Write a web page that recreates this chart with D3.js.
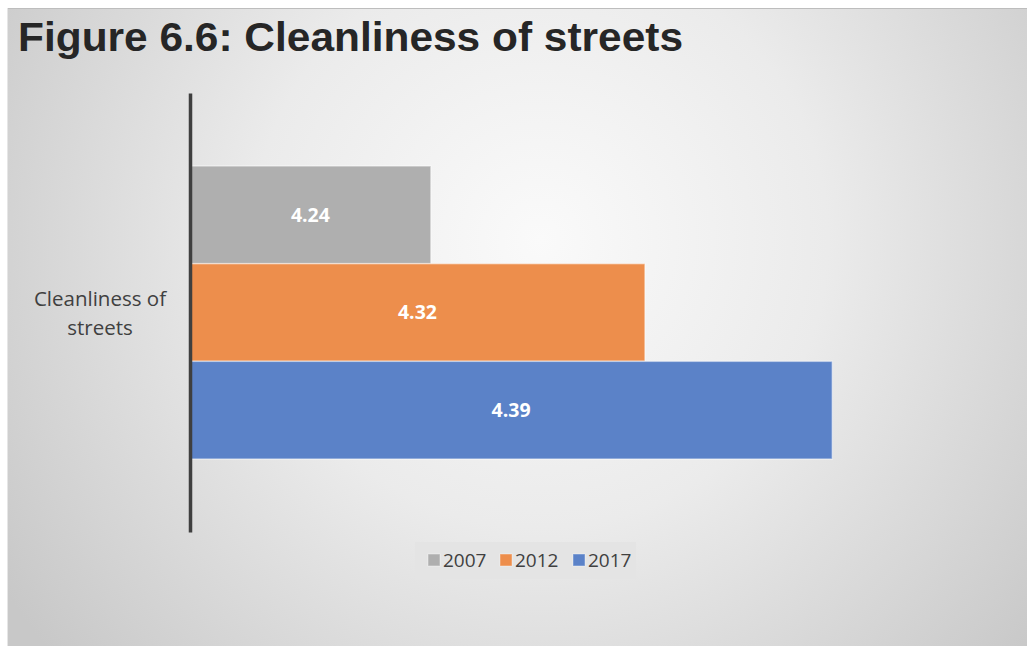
<!DOCTYPE html>
<html>
<head>
<meta charset="utf-8">
<script src="https://cdn.jsdelivr.net/npm/d3@7/dist/d3.min.js"></script>
<style>
  html, body { margin: 0; padding: 0; background: #ffffff; }
  svg { display: block; }
</style>
</head>
<body>
<svg id="chart" width="1027" height="646"></svg>
<script>
// Survey score for street cleanliness, by survey year
const categories = ["Cleanliness of streets"];
const years = ["2007", "2012", "2017"];
const scores = [4.24, 4.32, 4.39];
const colors = ["#afafaf", "#ed8e4c", "#5b82c8"];
const axisDomain = [4.15, 4.40];

const svg = d3.select("#chart");
const W = 1027, H = 646;

// panel background with soft radial shading
const defs = svg.append("defs");
const grad = defs.append("radialGradient")
  .attr("id", "bg")
  .attr("gradientUnits", "userSpaceOnUse")
  .attr("cx", 540).attr("cy", 240).attr("r", 640);
grad.append("stop").attr("offset", "0").attr("stop-color", "#fafafa");
grad.append("stop").attr("offset", "0.45").attr("stop-color", "#ebebeb");
grad.append("stop").attr("offset", "1").attr("stop-color", "#c8c8c8");

svg.append("rect")
  .attr("x", 7).attr("y", 8).attr("width", W - 7).attr("height", H - 8)
  .attr("fill", "url(#bg)");
svg.append("line").attr("x1", 7).attr("x2", W).attr("y1", 8.5).attr("y2", 8.5)
  .attr("stroke", "#bdbdbd").attr("stroke-width", 1);
svg.append("line").attr("x1", 7.5).attr("x2", 7.5).attr("y1", 8).attr("y2", H)
  .attr("stroke", "#e6e6e6").attr("stroke-width", 1);

// title
svg.append("text")
  .attr("x", 18).attr("y", 51)
  .attr("font-family", "'Liberation Sans', Arial, sans-serif")
  .attr("font-weight", "bold")
  .attr("font-size", 40)
  .attr("fill", "#262626")
  .attr("textLength", 665)
  .attr("lengthAdjust", "spacingAndGlyphs")
  .text("Figure 6.6: Cleanliness of streets");

// scales
const x = d3.scaleLinear().domain(axisDomain).range([190, 859]);
const yCat = d3.scaleBand().domain(categories).range([93, 532]).paddingInner(0).paddingOuter(0);
const bandInner = 293;
const yYear = d3.scaleBand().domain(years)
  .range([yCat(categories[0]) + (yCat.bandwidth() - bandInner) / 2,
          yCat(categories[0]) + (yCat.bandwidth() + bandInner) / 2]);

const rows = years.map((yr, i) => ({ year: yr, value: scores[i], color: colors[i] }));

// bars
svg.append("g").selectAll("rect")
  .data(rows)
  .join("rect")
  .attr("x", x(axisDomain[0]))
  .attr("y", d => yYear(d.year))
  .attr("width", d => x(d.value) - x(axisDomain[0]))
  .attr("height", yYear.bandwidth())
  .attr("fill", d => d.color)
  .attr("stroke", "rgba(255,255,255,0.45)")
  .attr("stroke-width", 1.5);

// value labels
svg.append("g").selectAll("text")
  .data(rows)
  .join("text")
  .attr("x", d => (x(axisDomain[0]) + x(d.value)) / 2)
  .attr("y", d => yYear(d.year) + yYear.bandwidth() / 2)
  .attr("dy", "0.35em")
  .attr("text-anchor", "middle")
  .attr("font-family", "'Open Sans', 'Noto Sans', sans-serif")
  .attr("font-weight", "bold")
  .attr("font-size", 19.5)
  .attr("fill", "#ffffff")
  .text(d => d.value.toFixed(2));

// category axis
const yAxis = d3.axisLeft(yCat).tickSize(0).tickFormat("");
const axisG = svg.append("g").attr("transform", `translate(${x(axisDomain[0])},0)`).call(yAxis);
axisG.select(".domain").attr("stroke", "#3f3f3f").attr("stroke-width", 3.5);

// category label, wrapped on two lines
const catLines = ["Cleanliness of", "streets"];
const catY = yCat(categories[0]) + yCat.bandwidth() / 2;
svg.append("text")
  .attr("font-family", "'Open Sans', 'Noto Sans', sans-serif")
  .attr("font-size", 20.5)
  .attr("fill", "#404040")
  .attr("text-anchor", "middle")
  .selectAll("tspan")
  .data(catLines)
  .join("tspan")
  .attr("x", 100)
  .attr("y", (d, i) => catY - 7 + i * 29)
  .text(d => d);

// legend
const legend = svg.append("g");
legend.append("rect")
  .attr("x", 415).attr("y", 542).attr("width", 221).attr("height", 37)
  .attr("fill", "#e4e4e4");
const legendX = [428, 500, 573];
const item = legend.selectAll("g.item")
  .data(rows)
  .join("g")
  .attr("class", "item")
  .attr("transform", (d, i) => `translate(${legendX[i]},554)`);
item.append("rect")
  .attr("width", 12).attr("height", 12)
  .attr("fill", d => d.color)
  .attr("stroke", "rgba(255,255,255,0.4)").attr("stroke-width", 1);
item.append("text")
  .attr("x", 15).attr("y", 6).attr("dy", "0.36em")
  .attr("font-family", "'Open Sans', 'Noto Sans', sans-serif")
  .attr("font-size", 19)
  .attr("fill", "#404040")
  .text(d => d.year);
</script>
</body>
</html>
